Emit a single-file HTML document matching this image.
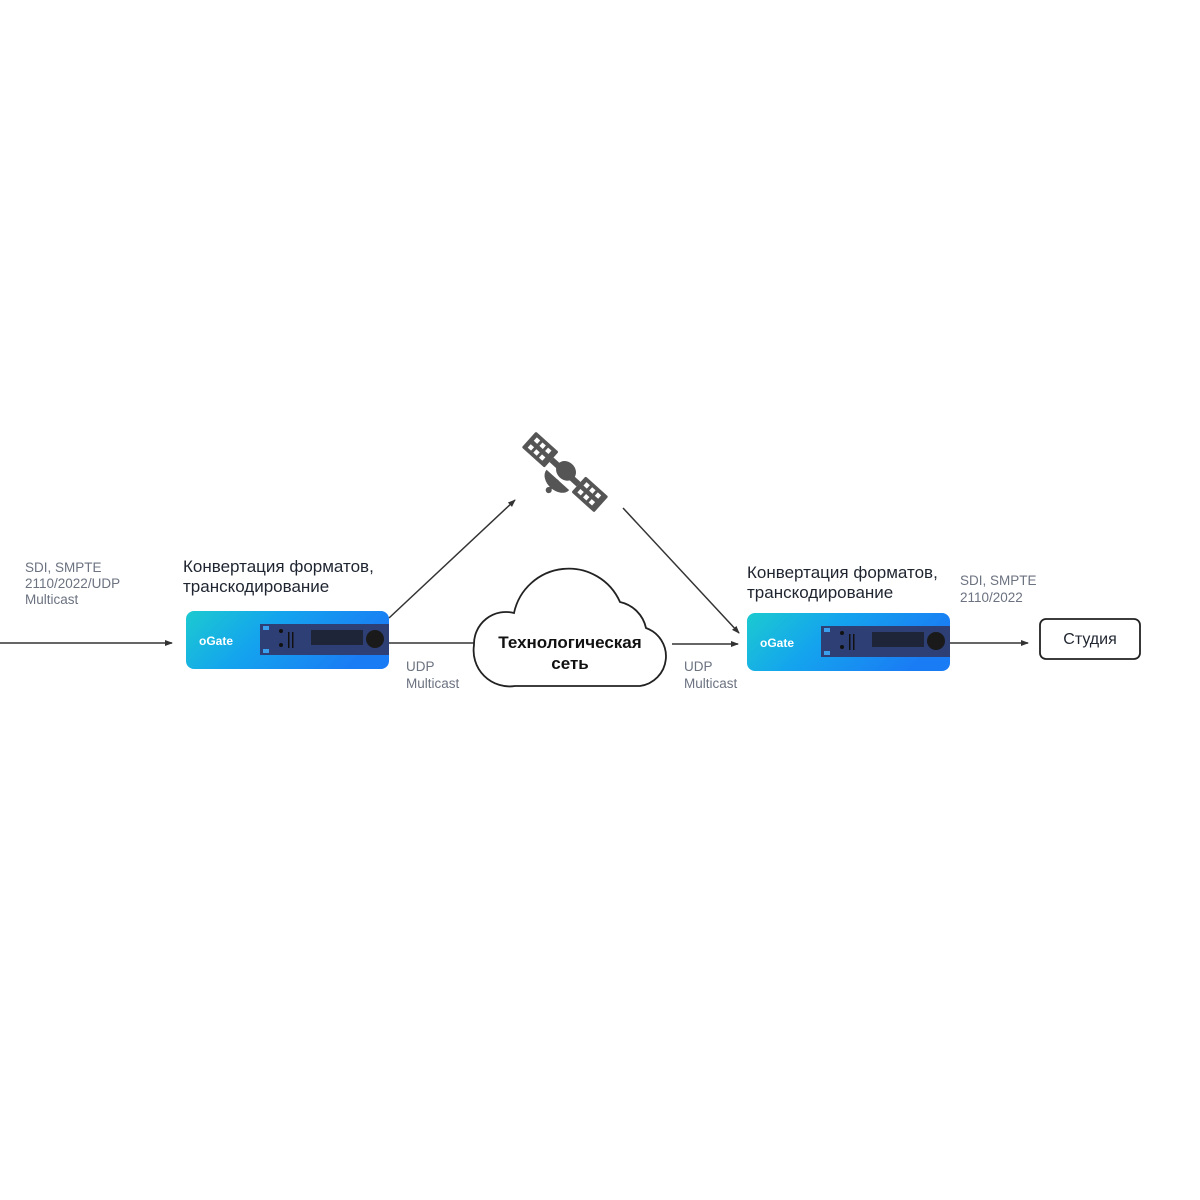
<!DOCTYPE html>
<html><head><meta charset="utf-8"><style>
html,body{margin:0;padding:0;background:#fff}
svg{display:block}
text{font-family:"Liberation Sans","DejaVu Sans",sans-serif}
</style></head><body>
<svg width="1200" height="1200" viewBox="0 0 1200 1200" xmlns="http://www.w3.org/2000/svg">
<defs>
<linearGradient id="g" x1="0" y1="0" x2="1" y2="0.3">
<stop offset="0" stop-color="#1ccad0"/><stop offset="0.45" stop-color="#14a4ee"/><stop offset="1" stop-color="#1a7cf4"/>
</linearGradient>
<marker id="a" markerWidth="8" markerHeight="8" refX="7" refY="4" orient="auto" markerUnits="userSpaceOnUse">
<path d="M0,1 L8,4 L0,7 Z" fill="#333"/></marker>
<g id="dev">
<rect x="0" y="0" width="203" height="58" rx="8" fill="url(#g)"/>
<text x="13" y="34" font-size="12" font-weight="bold" fill="#fff">oGate</text>
<rect x="74" y="13" width="129" height="31" fill="#2e3f75"/>
<rect x="77" y="15" width="6" height="4" fill="#3aa0ee"/>
<rect x="77" y="38" width="6" height="4" fill="#3aa0ee"/>
<circle cx="95" cy="20" r="2" fill="#111"/><circle cx="95" cy="34" r="2" fill="#111"/>
<rect x="102" y="21" width="1.5" height="16" fill="#111"/><rect x="106" y="21" width="1.5" height="16" fill="#111"/>
<rect x="125" y="19" width="52" height="15" fill="#1f2538"/>
<circle cx="189" cy="28" r="9" fill="#1a1a1a"/>
</g>
</defs>

<line x1="0" y1="643" x2="172" y2="643" stroke="#333" stroke-width="1.5" marker-end="url(#a)"/>
<line x1="389" y1="618" x2="515" y2="500" stroke="#333" stroke-width="1.5" marker-end="url(#a)"/>
<line x1="623" y1="508" x2="739" y2="633" stroke="#333" stroke-width="1.5" marker-end="url(#a)"/>
<line x1="389" y1="643" x2="475" y2="643" stroke="#333" stroke-width="1.5"/>
<line x1="672" y1="644" x2="738" y2="644" stroke="#333" stroke-width="1.5" marker-end="url(#a)"/>
<line x1="950" y1="643" x2="1028" y2="643" stroke="#333" stroke-width="1.5" marker-end="url(#a)"/>

<use href="#dev" x="186" y="611"/>
<use href="#dev" x="747" y="613"/>

<path d="M515,686 A36,36 0 0 1 474,645 A32,32 0 0 1 514,613 A56,56 0 0 1 620,602 A34,34 0 0 1 646,628 A30,30 0 0 1 640,686 Z" fill="#fff" stroke="#222" stroke-width="1.8"/>
<text x="570" y="648" font-size="17" font-weight="bold" text-anchor="middle" fill="#111">Технологическая</text>
<text x="570" y="669" font-size="17" font-weight="bold" text-anchor="middle" fill="#111">сеть</text>

<g fill="#555" transform="translate(565,472) rotate(42) scale(0.76)">
<rect x="-64" y="-14" width="40" height="28" rx="2"/>
<rect x="24" y="-14" width="40" height="28" rx="2"/>
<g fill="#fff">
<rect x="-58" y="-9" width="6" height="6"/><rect x="-48" y="-9" width="6" height="6"/><rect x="-38" y="-9" width="6" height="6"/>
<rect x="-58" y="3" width="6" height="6"/><rect x="-48" y="3" width="6" height="6"/><rect x="-38" y="3" width="6" height="6"/>
<rect x="30" y="-9" width="6" height="6"/><rect x="40" y="-9" width="6" height="6"/><rect x="50" y="-9" width="6" height="6"/>
<rect x="30" y="3" width="6" height="6"/><rect x="40" y="3" width="6" height="6"/><rect x="50" y="3" width="6" height="6"/>
</g>
<rect x="-24" y="-4" width="48" height="8"/>
<ellipse cx="0" cy="-2" rx="14" ry="12"/>
<path d="M-20,14 A20,14 0 0 0 20,14 Z"/>
<rect x="-2" y="14" width="4" height="16"/>
<circle cx="0" cy="32" r="4"/>
</g>

<g font-size="13.5" fill="#6b7280">
<text x="25" y="572">SDI, SMPTE</text>
<text x="25" y="588">2110/2022/UDP</text>
<text x="25" y="604">Multicast</text>
<text x="406" y="671">UDP</text>
<text x="406" y="688">Multicast</text>
<text x="684" y="671">UDP</text>
<text x="684" y="688">Multicast</text>
<text x="960" y="585">SDI, SMPTE</text>
<text x="960" y="602">2110/2022</text>
</g>
<g font-size="17" fill="#1f2530">
<text x="183" y="572">Конвертация форматов,</text>
<text x="183" y="592">транскодирование</text>
<text x="747" y="578">Конвертация форматов,</text>
<text x="747" y="598">транскодирование</text>
</g>

<rect x="1040" y="619" width="100" height="40" rx="6" fill="#fff" stroke="#222" stroke-width="1.8"/>
<text x="1090" y="644" font-size="16" text-anchor="middle" fill="#1f2530">Студия</text>
</svg>
</body></html>
